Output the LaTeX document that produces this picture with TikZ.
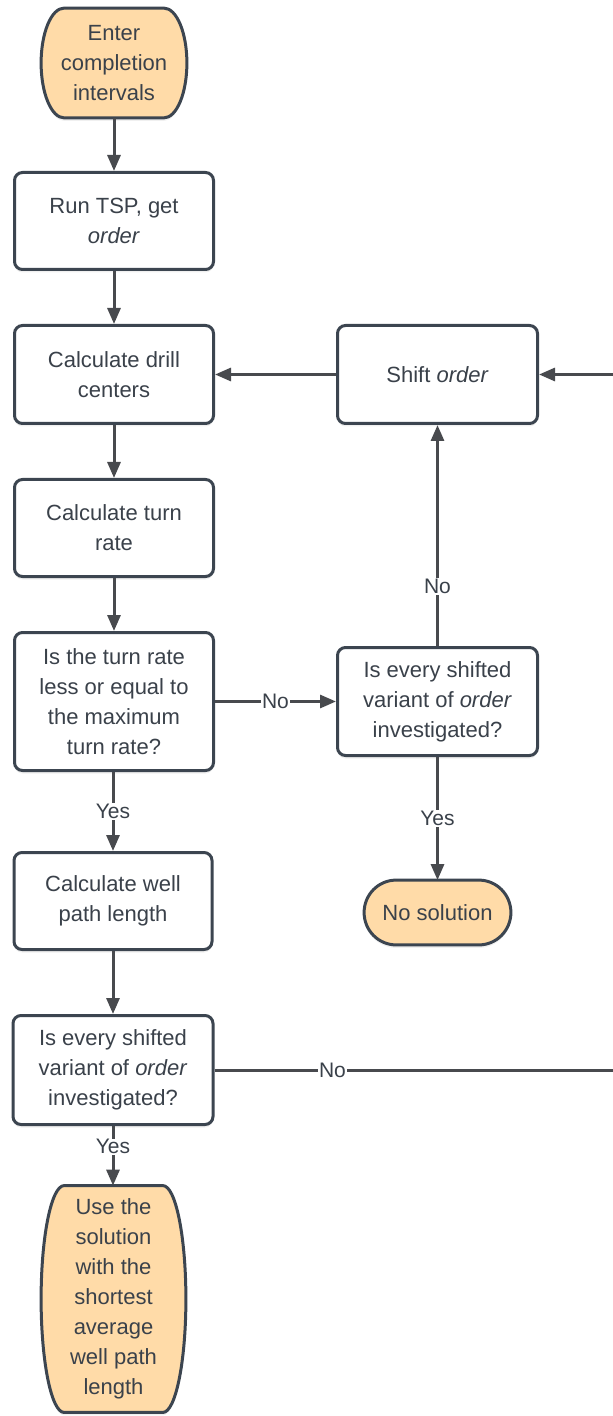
\documentclass[tikz,border=0pt]{standalone}
\usepackage{fontspec}
\setmainfont{Liberation Sans}
\usetikzlibrary{arrows.meta,shadows,backgrounds,calc}
\definecolor{bordc}{RGB}{60,69,80}
\definecolor{linec}{RGB}{72,74,78}
\definecolor{txtc}{RGB}{58,65,74}
\definecolor{termfill}{RGB}{255,219,168}
\newcommand{\termoutline}[2]{%
  \path[termshape] let \p1=(#1.north west), \p2=(#1.south east), \n1={(\y1-\y2)/2} in
    (\x1+#2,\y1) -- (\x2-#2,\y1)
    arc[start angle=90,end angle=-90,x radius=#2,y radius={\n1*1pt}]
    -- (\x1+#2,\y2)
    arc[start angle=270,end angle=90,x radius=#2,y radius={\n1*1pt}] -- cycle;}
\begin{document}
\begin{tikzpicture}[x=0.5pt,y=0.5pt,
  txt/.style={text=txtc, font=\fontsize{11pt}{15pt}\selectfont, align=center, inner sep=0pt},
  box/.style={txt, shape=rectangle, draw=bordc, line width=1.5pt, rounded corners=4pt, fill=white,
     drop shadow={opacity=0.12, shadow xshift=0pt, shadow yshift=-1.5pt}},
  term/.style={txt, shape=rectangle, draw=none, fill=none},
  termshape/.style={draw=bordc, line width=1.5pt, fill=termfill,
     drop shadow={opacity=0.12, shadow xshift=0pt, shadow yshift=-1.5pt}},
  conn/.style={draw=linec, line width=1.5pt, -{Triangle[length=8pt,width=6.5pt]}},
  plainline/.style={draw=linec, line width=1.5pt},
  lab/.style={fill=white, text=txtc, font=\fontsize{10.5pt}{12pt}\selectfont, inner sep=0.5pt}
]
\useasboundingbox (0,0) rectangle (613,-1416);
% left column
\node[term, minimum width=72.5pt, minimum height=54.5pt] (t1) at (114,-63) {Enter\\completion\\intervals};
\node[box, minimum width=99.5pt, minimum height=48.5pt] (b1) at (114,-221) {Run TSP, get\\\textit{order}};
\node[box, minimum width=99.5pt, minimum height=49pt] (b2) at (114,-374.5) {Calculate drill\\centers};
\node[box, minimum width=99.5pt, minimum height=48.5pt] (b3) at (114,-528) {Calculate turn\\rate};
\node[box, minimum width=99.5pt, minimum height=69pt] (d1) at (114,-701.5) {Is the turn rate\\less or equal to\\the maximum\\turn rate?};
\node[box, minimum width=99pt, minimum height=48.5pt] (b4) at (113,-901) {Calculate well\\path length};
\node[box, minimum width=100pt, minimum height=54.5pt] (d2) at (113,-1070) {Is every shifted\\variant of \textit{order}\\investigated?};
\node[term, minimum width=72pt, minimum height=113pt] (t2) at (113.5,-1299) {Use the\\solution\\with the\\shortest\\average\\well path\\length};
% right column
\node[box, minimum width=100pt, minimum height=49pt] (s) at (437.5,-374.5) {Shift \textit{order}};
\node[box, minimum width=100pt, minimum height=54pt] (d3) at (437.5,-701.5) {Is every shifted\\variant of \textit{order}\\investigated?};
\node[term, minimum width=73pt, minimum height=32pt] (t3) at (437.5,-912.5) {No solution};
\begin{scope}[on background layer]
\termoutline{t1}{11.5pt}
\termoutline{t2}{11.5pt}
\termoutline{t3}{16pt}
\end{scope}
\coordinate (rin) at (613,-374.5);
\coordinate (rout) at (613,-1070);
% connectors
\draw[conn] (t1) -- (b1);
\draw[conn] (b1) -- (b2);
\draw[conn] (b2) -- (b3);
\draw[conn] (b3) -- (d1);
\draw[conn] (d1.south -| b4) -- node[lab]{Yes} (b4);
\draw[conn] (b4) -- (d2);
\draw[conn] (d2) -- node[lab,pos=0.35]{Yes} (t2.north -| d2);
\draw[conn] (d1) -- node[lab]{No} (d3);
\draw[conn] (d3) -- node[lab,pos=0.27]{No} (s);
\draw[conn] (d3) -- node[lab]{Yes} (t3);
\draw[conn] (s) -- (b2);
\draw[conn] (rin) -- (s);
\draw[plainline] (d2) -- node[lab,pos=0.296]{No} (rout);
\end{tikzpicture}
\end{document}
